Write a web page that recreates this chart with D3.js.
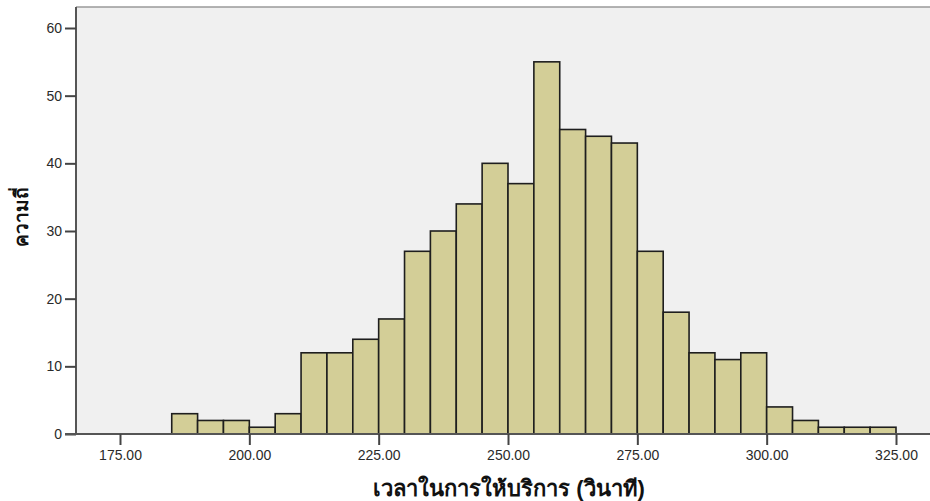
<!DOCTYPE html>
<html lang="th">
<head>
    <meta charset="UTF-8">
    <title>Histogram</title>
    <style>
        body { margin: 0; background: #ffffff; font-family: Arial, "Liberation Sans", sans-serif; }
        .tick text { fill: #2a2a2a; font-size: 14px; }
    </style>
</head>
<body>
    <div id="chart"></div>
    <script src="https://d3js.org/d3.v7.min.js"></script>
    <script>
        // bin starts (width 5) and counts
        var binStarts = [185, 190, 195, 200, 205, 210, 215, 220, 225, 230, 235, 240, 245, 250,
                         255, 260, 265, 270, 275, 280, 285, 290, 295, 300, 305, 310, 315, 320];
        var counts = [3, 2, 2, 1, 3, 12, 12, 14, 17, 27, 30, 34, 40, 37,
                      55, 45, 44, 43, 27, 18, 12, 11, 12, 4, 2, 1, 1, 1];
        var binWidth = 5;
        var xTicks = [175, 200, 225, 250, 275, 300, 325];
        var yTicks = [0, 10, 20, 30, 40, 50, 60];

        var width = 930, height = 501;
        var plotLeft = 76, plotTop = 7, plotBottom = 434;

        var svg = d3.select("#chart").append("svg")
            .attr("width", width)
            .attr("height", height);

        // x: 175 sits at 120px, 325 at 896px
        var x = d3.scaleLinear().domain([175, 325]).range([120, 896]);
        var y = d3.scaleLinear().domain([0, 60]).range([plotBottom, 28]);

        // plot background
        svg.append("rect")
            .attr("x", plotLeft).attr("y", plotTop)
            .attr("width", width - plotLeft).attr("height", plotBottom - plotTop)
            .attr("fill", "#f0f0f0");
        svg.append("line")
            .attr("x1", plotLeft).attr("x2", width)
            .attr("y1", plotTop).attr("y2", plotTop)
            .attr("stroke", "#9a9a9a").attr("stroke-width", 1.5);

        // bars
        svg.selectAll(".bar")
            .data(binStarts)
            .enter()
            .append("rect")
            .attr("class", "bar")
            .attr("x", function(d) { return x(d); })
            .attr("y", function(d, i) { return y(counts[i]); })
            .attr("width", function(d) { return x(d + binWidth) - x(d); })
            .attr("height", function(d, i) { return y(0) - y(counts[i]); })
            .attr("fill", "#d3ce97")
            .attr("stroke", "#1e1e1e")
            .attr("stroke-width", 1.6);

        // y axis
        var yAxis = svg.append("g")
            .attr("transform", "translate(" + plotLeft + ",0)")
            .call(d3.axisLeft(y).tickValues(yTicks).tickSize(11).tickPadding(3).tickFormat(d3.format("d")));
        yAxis.select(".domain").attr("d", "M0," + plotTop + "V" + plotBottom).attr("stroke", "#555").attr("stroke-width", 2);
        yAxis.selectAll(".tick line").attr("stroke", "#444").attr("stroke-width", 2);

        // x axis
        var xAxis = svg.append("g")
            .attr("transform", "translate(0," + plotBottom + ")")
            .call(d3.axisBottom(x).tickValues(xTicks).tickSize(11).tickPadding(5).tickFormat(d3.format(".2f")));
        xAxis.select(".domain").attr("d", "M" + (plotLeft - 11) + ",0H" + width).attr("stroke", "#555").attr("stroke-width", 2);
        xAxis.selectAll(".tick line").attr("stroke", "#444").attr("stroke-width", 2);
        svg.selectAll(".tick text").attr("font-family", "Arial, 'Liberation Sans', sans-serif");

        // axis titles
        svg.append("text")
            .attr("x", 509).attr("y", 496)
            .attr("text-anchor", "middle")
            .attr("font-size", "22px")
            .attr("font-weight", "bold")
            .attr("fill", "#111")
            .text("เวลาในการให้บริการ (วินาที)");

        svg.append("text")
            .attr("transform", "translate(28,217) rotate(-90)")
            .attr("text-anchor", "middle")
            .attr("font-size", "19px")
            .attr("font-weight", "bold")
            .attr("fill", "#111")
            .text("ความถี่");
    </script>
</body>
</html>
